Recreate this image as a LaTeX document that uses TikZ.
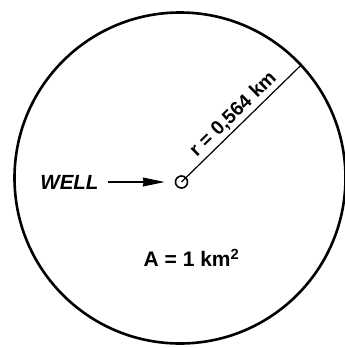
\documentclass[tikz,border=0pt]{standalone}
\usepackage{fontspec}
\setmainfont{Liberation Sans}
\usetikzlibrary{arrows.meta,positioning}
\tikzstyle{field} = [circle, draw, line width=2.6pt, minimum size=331pt, inner sep=0pt]
\tikzstyle{wellmark} = [circle, draw, line width=1.6pt, minimum size=12pt, inner sep=0pt]
\tikzstyle{tag} = [inner sep=0pt, font=\bfseries\fontsize{21}{23}\selectfont]
\tikzstyle{arrow} = [line width=1.3pt, -{Stealth[length=22pt,width=9pt,inset=1pt]}]

\begin{document}
\begin{tikzpicture}[x=1pt,y=-1pt]
\useasboundingbox (0,0) rectangle (345,348);
% Drainage area
\node (field) [field] at (180,178) {};
% Well and radius
\node (well) [wellmark] at (181.5,182) {};
\draw[line width=1.2pt] (well.center) -- (field.43)
  node[midway, above=3pt, sloped, tag, font=\bfseries\fontsize{19.5}{21}\selectfont] {r = 0,564 km};

% Labels
\node (welllabel) [tag, left=76pt of well, font=\bfseries\itshape\fontsize{20.5}{22}\selectfont] {WELL};
\draw[arrow, shorten <=9pt, shorten >=10pt] (welllabel) -- (well);
\node (area) [tag, below=60pt of well, xshift=10pt] {A = 1 km\textsuperscript{2}};
\end{tikzpicture}
\end{document}
